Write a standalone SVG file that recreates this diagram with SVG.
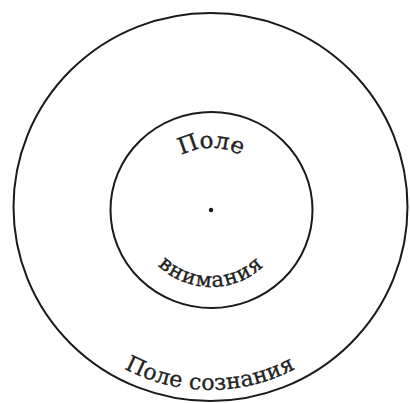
<svg xmlns="http://www.w3.org/2000/svg" width="410" height="403" viewBox="0 0 410 403">
<style>
.ring{fill:none;stroke:#1a1a1a;stroke-width:2}
.lbl{font-family:"DejaVu Serif","Liberation Serif",serif;fill:#222;stroke:#222;stroke-width:0.35}
</style>
<defs>
<path id="arcTop" d="M149,210 A62,62 0 0 1 273,210"/>
<path id="arcInnerBot" d="M134,210 A77,77 0 0 0 288,210"/>
<path id="arcOuterBot" d="M27,207 A183,183 0 0 0 393,207"/>
</defs>
<rect width="410" height="403" fill="#ffffff"/>
<g id="outer-field">
<ellipse class="ring" cx="210.5" cy="207" rx="197" ry="194"/>
<text class="lbl" font-size="22" letter-spacing="0.3"><textPath href="#arcOuterBot" startOffset="50%" text-anchor="middle">Поле сознания</textPath></text>
</g>
<g id="attention-field">
<ellipse class="ring" cx="211.5" cy="210" rx="101" ry="98"/>
<text class="lbl" font-size="23"><textPath href="#arcTop" startOffset="50%" text-anchor="middle">Поле</textPath></text>
<text class="lbl" font-size="21" letter-spacing="1"><textPath href="#arcInnerBot" startOffset="50%" text-anchor="middle">внимания</textPath></text>
</g>
<g id="focus">
<circle cx="211" cy="210" r="2.2" fill="#1a1a1a"/>
</g>
<g id="connectors"></g>
</svg>
